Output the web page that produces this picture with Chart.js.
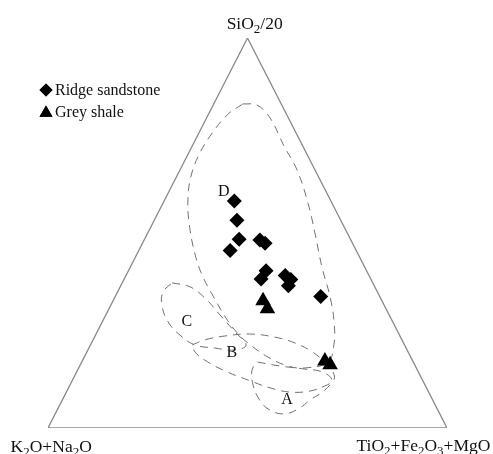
<!DOCTYPE html>
<html>
<head>
<meta charset="utf-8">
<script src="https://cdn.jsdelivr.net/npm/chart.js@4.4.1/dist/chart.umd.min.js"></script>
<style>
  html, body { margin: 0; padding: 0; background: #fff; }
</style>
</head>
<body>
<canvas id="chart" width="493" height="454"></canvas>
<script>
// ternary values in %, as [SiO2/20, TiO2+Fe2O3+MgO]; K2O+Na2O is the remainder
const sandstone = [
  [58.2, 17.6], [53.3, 20.7], [48.4, 23.7], [45.5, 22.9], [48.2, 29.0], [47.4, 30.7],
  [40.3, 34.5], [38.2, 34.3], [39.1, 39.9], [38.1, 41.8], [36.5, 42.0], [33.7, 51.5],
]
const shale = [[32.6, 37.6], [30.6, 39.7], [17.2, 60.8], [16.2, 62.6]]

const corners = [[100, 0], [0, 0], [0, 100], [100, 0]]

const fieldD = [
  [83.1, 7.3], [82.8, 11.0], [79.5, 15.9], [72.3, 23.0], [66.2, 29.3], [57.7, 36.3],
  [50.0, 41.9], [41.3, 48.0], [33.6, 53.9], [27.2, 58.1], [21.3, 61.0], [16.9, 61.7],
  [15.4, 56.7], [15.9, 52.2], [18.2, 46.0], [21.8, 39.2], [24.4, 35.2], [28.2, 30.5],
  [33.8, 24.5], [38.7, 19.5], [43.6, 15.3], [50.8, 10.2], [57.7, 6.2], [64.4, 3.6],
  [70.5, 2.8], [75.9, 3.4], [80.5, 4.9],
]
const fieldC = [
  [37.2, 12.5], [36.2, 17.5], [33.3, 22.7], [29.0, 28.6], [24.6, 34.6], [21.3, 39.0],
  [20.0, 36.9], [20.5, 31.6], [21.3, 26.2], [23.8, 21.2], [27.2, 16.5], [31.5, 12.8],
  [34.9, 11.4],
]
const fieldB = [
  [21.3, 25.5], [22.6, 28.0], [23.6, 32.6], [24.1, 38.5], [23.3, 45.2], [21.8, 51.0],
  [19.5, 56.5], [16.9, 60.9], [14.4, 64.2], [12.3, 65.5], [10.8, 64.0], [9.5, 61.0],
  [9.2, 56.1], [10.3, 50.5], [12.1, 44.6], [14.6, 37.1], [17.4, 30.6], [19.5, 27.1],
]
const fieldA = [
  [16.9, 44.1], [15.9, 50.2], [15.1, 56.8], [14.4, 61.5], [12.3, 65.0], [9.7, 64.5],
  [7.2, 62.1], [4.9, 60.3], [3.6, 57.1], [4.9, 52.7], [7.4, 49.2], [11.0, 45.9],
  [14.9, 43.7],
]

const fieldNames = ["A", "B", "C", "D"]
const fieldLabelPos = [[7.2, 56.3], [19.2, 36.5], [27.2, 21.2], [60.5, 13.8]]

const seriesNames = ["Ridge sandstone", "Grey shale"]

// apex label positions, same ternary form
const apexLabels = [
  { parts: [["SiO", 0], ["2", 1], ["/20", 0]], at: [103.8, -0.1] },
  { parts: [["K", 0], ["2", 1], ["O+Na", 0], ["2", 1], ["O", 0]], at: [-4.6, 3.1] },
  { parts: [["TiO", 0], ["2", 1], ["+Fe", 0], ["2", 1], ["O", 0], ["3", 1], ["+MgO", 0]], at: [-4.4, 96.3] },
]

function toXY(p) {
  const t = p[0] / 100, r = p[1] / 100
  return { x: r + t / 2, y: t }
}

function closed(arr) {
  return arr.concat([arr[0]]).map(toXY)
}

const serif = "'Liberation Serif', 'DejaVu Serif', serif"

function drawSubText(ctx, parts, cx, cy, size) {
  const subSize = Math.round(size * 0.72)
  let total = 0
  parts.forEach(([s, sub]) => {
    ctx.font = `${sub ? subSize : size}px ${serif}`
    total += ctx.measureText(s).width
  })
  let x = cx - total / 2
  ctx.textBaseline = "alphabetic"
  ctx.textAlign = "left"
  parts.forEach(([s, sub]) => {
    ctx.font = `${sub ? subSize : size}px ${serif}`
    ctx.fillText(s, x, cy + size * 0.35 + (sub ? size * 0.22 : 0))
    x += ctx.measureText(s).width
  })
}

const textPlugin = {
  id: "ternaryText",
  afterDraw(chart) {
    const { ctx, scales } = chart
    const px = p => {
      const q = toXY(p)
      return [scales.x.getPixelForValue(q.x), scales.y.getPixelForValue(q.y)]
    }
    ctx.save()
    ctx.fillStyle = "#111"
    apexLabels.forEach(l => {
      const [x, y] = px(l.at)
      drawSubText(ctx, l.parts, x, y, 17.5)
    })
    ctx.font = `16px ${serif}`
    ctx.textAlign = "center"
    ctx.textBaseline = "middle"
    fieldNames.forEach((n, i) => {
      const [x, y] = px(fieldLabelPos[i])
      ctx.fillText(n, x, y)
    })

    // legend, top left
    const styles = ["rectRot", "triangle"]
    const radii = [6.5, 7.5]
    seriesNames.forEach((name, i) => {
      const y = 90 + i * 22
      ctx.fillStyle = "#000"
      Chart.helpers.drawPoint(ctx, { pointStyle: styles[i], radius: radii[i], borderWidth: 0 }, 46, y + (i ? 1 : 0))
      ctx.fill()
      ctx.fillStyle = "#111"
      ctx.font = `16px ${serif}`
      ctx.textAlign = "left"
      ctx.textBaseline = "middle"
      ctx.fillText(name, 55, y + 1)
    })
    ctx.restore()
  },
}

const dashed = (arr) => ({
  data: closed(arr),
  showLine: true,
  tension: 0.4,
  borderColor: "#707070",
  borderWidth: 1,
  borderDash: [8, 6],
  pointRadius: 0,
  fill: false,
})

new Chart(document.getElementById("chart"), {
  type: "scatter",
  data: {
    datasets: [
      {
        label: seriesNames[0],
        data: sandstone.map(toXY),
        pointStyle: "rectRot",
        pointRadius: 7.5,
        backgroundColor: "#000",
        borderColor: "#000",
        borderWidth: 0,
      },
      {
        label: seriesNames[1],
        data: shale.map(toXY),
        pointStyle: "triangle",
        pointRadius: 9,
        backgroundColor: "#000",
        borderColor: "#000",
        borderWidth: 0,
      },
      dashed(fieldA),
      dashed(fieldB),
      dashed(fieldC),
      dashed(fieldD),
      {
        data: corners.map(toXY),
        showLine: true,
        borderColor: "#8a8a8a",
        borderWidth: 1.3,
        pointRadius: 0,
        tension: 0,
      },
    ],
  },
  options: {
    responsive: false,
    animation: false,
    devicePixelRatio: 1,
    layout: { padding: { left: 48, right: 46, top: 38, bottom: 26 } },
    scales: {
      x: { type: "linear", min: 0, max: 1, display: false },
      y: { type: "linear", min: 0, max: 1, display: false },
    },
    plugins: {
      legend: { display: false },
      tooltip: { enabled: false },
    },
  },
  plugins: [textPlugin],
})
</script>
</body>
</html>
